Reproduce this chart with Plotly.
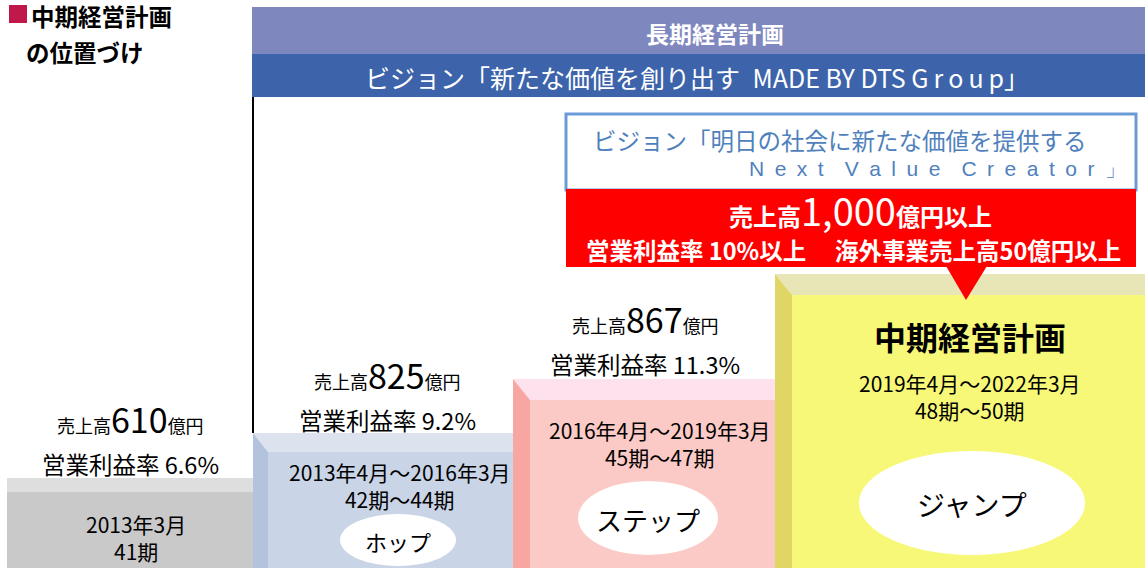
import plotly.graph_objects as go

# ---------------- data ----------------
periods = ["2013年3月", "2013年4月～2016年3月", "2016年4月～2019年3月", "2019年4月～2022年3月"]
terms = ["41期", "42期～44期", "45期～47期", "48期～50期"]
sales = [610, 825, 867]            # 億円
op_margin = [6.6, 9.2, 11.3]       # %
stages = ["", "ホップ", "ステップ", "ジャンプ"]
plan_name = "中期経営計画"
long_plan = "長期経営計画"
long_vision_jp = "ビジョン「新たな価値を創り出す"
long_vision_en = "MADE BY DTS Group」"
new_vision_l1 = "ビジョン「明日の社会に新たな価値を提供する"
new_vision_l2 = "Next Value Creator」"
target_sales = "1,000"
target_margin = 10
target_overseas = 50
title_lines = ["中期経営計画", "の位置づけ"]

# ---------------- layout geometry (pixel space) ----------------
W, H = 1145, 568
JP = "Noto Sans CJK JP"

# blocks: back-left x, front-left x, right x, back-top y, front-top y
blocks = [
    dict(xb=7, xf=7, xr=270, yb=478, yf=492, side="#c9c9c9", top="#dedede", front="#c9c9c9"),
    dict(xb=253, xf=268, xr=532, yb=433, yf=452, side="#b3c3dd", top="#dce3ef", front="#c9d4e6"),
    dict(xb=513, xf=530, xr=794, yb=379, yf=400, side="#f8a6a1", top="#fde1ec", front="#fbcac6"),
    dict(xb=775, xf=792, xr=1145, yb=274, yf=295, side="#e0d666", top="#e8e6b7", front="#f7f877"),
]
ellipses = [None, (398, 540, 58, 26), (648, 518, 70, 37), (972, 503, 113, 52)]

shapes = []
annotations = []


def rect(x0, y0, x1, y1, fill, line=None, lw=0):
    shapes.append(dict(type="rect", xref="x", yref="y", x0=x0, y0=y0, x1=x1, y1=y1,
                       fillcolor=fill, line=dict(color=line or fill, width=lw), layer="below"))


def poly(pts, fill):
    d = "M " + " L ".join(f"{x},{y}" for x, y in pts) + " Z"
    shapes.append(dict(type="path", xref="x", yref="y", path=d, fillcolor=fill,
                       line=dict(width=0), layer="below"))


def text(x, y, s, size, color="black", font=JP, xanchor="center", weight="normal",
         align="center", yanchor="middle"):
    annotations.append(dict(x=x, y=y, xref="x", yref="y", text=s, showarrow=False,
                            xanchor=xanchor, yanchor=yanchor, align=align,
                            font=dict(size=size, color=color, family=font, weight=weight)))


def spaced(s, gap="\u2002"):
    words = s.split(" ")
    return (gap * 2).join(gap.join(w) for w in words)


# header bars
rect(252, 7, W, 54, "#7f87bf")
rect(252, 54, W, 97, "#3d63ab")
text(715, 33, long_plan, 23, "white", weight="bold")
text(697, 77, long_vision_jp + "\u2002" + long_vision_en.replace("Group", "G\u2009r\u2009o\u2009u\u2009p"),
     25, "white")

# vertical line
shapes.append(dict(type="line", xref="x", yref="y", x0=253, x1=253, y0=97, y1=433,
                   line=dict(color="black", width=2), layer="below"))

# blocks
for b in blocks:
    poly([(b["xb"], b["yb"]), (b["xr"], b["yb"]), (b["xr"], b["yf"]), (b["xf"], b["yf"])], b["top"])
    if b["xf"] > b["xb"]:
        poly([(b["xb"], b["yb"]), (b["xf"], b["yf"]), (b["xf"], H), (b["xb"], H)], b["side"])
    rect(b["xf"], b["yf"], b["xr"], H, b["front"])

# ellipses
for e in ellipses:
    if e:
        cx, cy, rx, ry = e
        shapes.append(dict(type="circle", xref="x", yref="y", x0=cx - rx, x1=cx + rx,
                           y0=cy - ry, y1=cy + ry, fillcolor="white", line=dict(width=0)))

# vision box + red target box
rect(566, 114, 1136, 190, "white", "#6a9bd6", 3)
rect(566, 189, 1136, 267, "#ff0000")
poly([(946, 266), (987, 266), (966, 300)], "#ff0000")

# title top-left
rect(9, 5, 27, 23, "#c0184a")
text(29, 35, title_lines[0], 23.5, xanchor="left", weight="bold", yanchor="bottom")
text(24, 33, title_lines[1], 23.5, xanchor="left", weight="bold", yanchor="top")

# sales / margin labels above blocks (split line between the two rows)
lab_pos = [(130, 445), (387, 401), (645, 345)]
for (cx, ysplit), s, m in zip(lab_pos, sales, op_margin):
    text(cx, ysplit, f"売上高<span style='font-size:34px'>{s}</span>億円", 18, yanchor="bottom")
    text(cx, ysplit, f"営業利益率 {m}%", 23.5, yanchor="top")

# period / term labels inside blocks
per_pos = [(136, 537), (400, 485), (660, 443), (970, 396)]
for (cx, y), p, t in zip(per_pos, periods, terms):
    text(cx, y, p + "<br>" + t, 21)

# stage labels in ellipses
stage_sizes = [22, 22, 26, 28]
for e, s, fs in zip(ellipses, stages, stage_sizes):
    if e:
        text(e[0], e[1] + 1, s, fs)

text(970, 336, plan_name, 32, weight="bold")

# new vision text
text(591, 140, new_vision_l1, 23.5, "#4f81bd", xanchor="left")
text(1128, 168, spaced(new_vision_l2.replace("」", "")) + "\u2002」", 21, "#4f81bd",
     font="Liberation Sans", xanchor="right")

# targets
text(860, 209, f"売上高<span style='font-size:38px;font-weight:normal'>{target_sales}</span>億円以上",
     24, "white", weight="bold")
text(853, 250, f"営業利益率 {target_margin}%以上　 海外事業売上高{target_overseas}億円以上",
     23.5, "white", weight="bold")

fig = go.Figure()
fig.update_layout(
    width=W, height=H, autosize=False,
    margin=dict(l=0, r=0, t=0, b=0),
    paper_bgcolor="white", plot_bgcolor="white",
    xaxis=dict(range=[0, W], visible=False, fixedrange=True),
    yaxis=dict(range=[H, 0], visible=False, fixedrange=True),
    shapes=shapes, annotations=annotations, showlegend=False,
)
fig.write_html("out.html", config={"displayModeBar": False},
               post_script="document.body.style.margin='0';")
